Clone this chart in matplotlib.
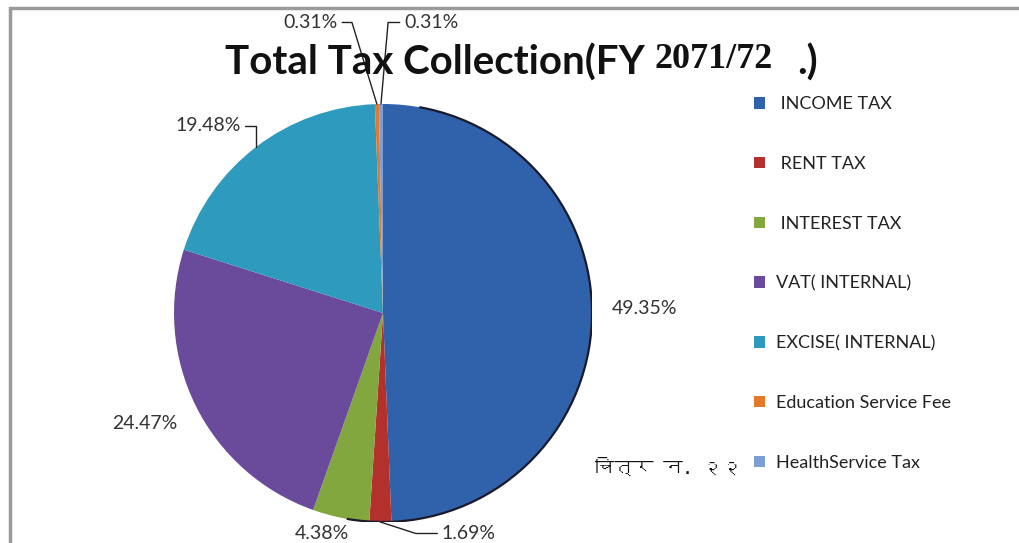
import matplotlib
matplotlib.use('Agg')
import numpy as np
import matplotlib.pyplot as plt
from matplotlib import font_manager
from matplotlib.ft2font import FT2Font
from matplotlib.patches import Rectangle, Arc

# data
categories = [' INCOME TAX', ' RENT TAX', ' INTEREST TAX', 'VAT( INTERNAL)',
              'EXCISE( INTERNAL)', 'Education Service Fee', 'HealthService Tax']
shares = [49.35, 1.69, 4.38, 24.47, 19.48, 0.31, 0.31]
pct_labels = ['49.35%', '1.69%', '4.38%', '24.47%', '19.48%', '0.31%', '0.31%']
colors = ['#2F62AB', '#B3302D', '#83A73F', '#6A4A9A', '#2E9BBE', '#E2792B', '#7E9ED6']

title_left = 'Total Tax Collection(FY '
title_year = '2071/72'
title_right = '.)'
caption = 'चित्र न. २२'


def find_font(ch):
    # first installed font that has the character
    for f in font_manager.fontManager.ttflist:
        try:
            if ord(ch) in FT2Font(f.fname).get_charmap():
                return f.name
        except Exception:
            pass
    return 'DejaVu Sans'


deva_font = find_font('च')

fig = plt.figure(figsize=(10.19, 5.43), dpi=100)
W, H = 1019, 543

# pie axes, centre ~(383,313) px, radius ~209 px
cx, cy, R = 383, 313, 209
ax = fig.add_axes([(cx - R) / W, (H - cy - R) / H, 2 * R / W, 2 * R / H])
wedges, _ = ax.pie(shares, colors=colors, startangle=90, counterclock=False,
                   wedgeprops=dict(linewidth=0))
ax.set_xlim(-1, 1)
ax.set_ylim(-1, 1)
ax.set_aspect('equal')
ax.axis('off')

# dark rim on the right side, like the shaded edge in the original
ax.add_patch(Arc((0, 0), 2, 2, theta1=-100, theta2=80, color='#1a1a2a', lw=1.6))

# label placement (pie units) and leader style
label_pos = [(1.25, 0.02, 'center', None),
             (0.28, -1.055, 'left', 'angle,angleA=0,angleB=-18'),
             (-0.29, -1.055, 'center', None),
             (-1.14, -0.53, 'center', None),
             (-0.68, 0.895, 'right', 'angle,angleA=0,angleB=90'),
             (-0.215, 1.39, 'right', 'angle,angleA=0,angleB=107'),
             (0.10, 1.39, 'left', 'angle,angleA=0,angleB=85')]

for w, lab, (lx, ly, ha, conn) in zip(wedges, pct_labels, label_pos):
    mid = np.deg2rad((w.theta1 + w.theta2) / 2)
    edge = (np.cos(mid), np.sin(mid))
    if conn:
        ax.annotate(lab, xy=edge, xytext=(lx, ly), ha=ha, va='center',
                    fontsize=14, family='Lato', color='#333333',
                    arrowprops=dict(arrowstyle='-', color='#222222', lw=1,
                                    connectionstyle=conn, shrinkA=1, shrinkB=0),
                    annotation_clip=False)
    else:
        ax.text(lx, ly, lab, ha=ha, va='center', fontsize=14, family='Lato',
                color='#333333')

# title in two fonts
fig.text(225 / W, 1 - 75 / H, title_left, family='Lato', weight='bold',
         fontsize=29, color='#111111', ha='left', va='baseline')
fig.text(655 / W, 1 - 68 / H, title_year, family='Liberation Serif',
         weight='bold', fontsize=26, color='#111111', ha='left', va='baseline')
fig.text(797 / W, 1 - 75 / H, title_right, family='Lato', weight='bold',
         fontsize=29, color='#111111', ha='left', va='baseline')

# legend
leg = fig.legend(wedges, categories, loc='upper left',
                 bbox_to_anchor=(738 / W, 1 - 80 / H), frameon=False,
                 prop=dict(family='Lato', size=13), labelcolor='#222222',
                 handlelength=0.6, handleheight=0.6, handletextpad=0.6,
                 labelspacing=2.42)

# caption
fig.text(595 / W, 1 - 466 / H, caption, family=[deva_font, 'DejaVu Sans'],
         fontsize=14, weight='bold', color='#111111', ha='left', va='center')

# grey frame around the chart area
fig.add_artist(Rectangle((10 / W, -0.1), 1.2, (H - 8) / H + 0.1,
                         transform=fig.transFigure, fill=False,
                         edgecolor='#9a9a9a', lw=2.5))

fig.savefig('out.png', dpi=100)
